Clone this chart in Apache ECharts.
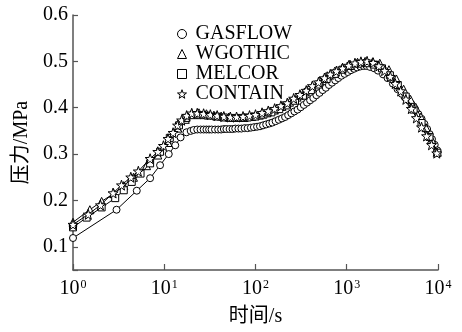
<!DOCTYPE html>
<html><head><meta charset="utf-8">
<script src="https://cdn.jsdelivr.net/npm/echarts@6/dist/echarts.min.js"></script>
<style>html,body{margin:0;padding:0;background:#fff}#c{width:462px;height:332px}</style>
</head><body><div id="c"></div>
<script>
const seriesNames = ['GASFLOW', 'WGOTHIC', 'MELCOR', 'CONTAIN'];
const xTicks = [1, 10, 100, 1000, 10000];
const yTicks = [0.1, 0.2, 0.3, 0.4, 0.5, 0.6];

const gasflowT = [1,3.0,5.0,7.0,9.0,11.2,13.2,15.1,17.5,19.5,21,23,25,27,29,31,33,36,39,42,45,48,52,56,60,65,70,76,82,89,96,104,112,121,131,142,153,166,180,195,211,228,247,267,289,313,339,367,397,430,465,503,545,590,638,690,747,808,875,947,1025,1110,1200,1300,1410,1530,1650,1800,2000,2200,2500,2800,3200,3600,4000,4600,5100,5600,6100,6600,7100,7600,8100,8600,9200,9800];
const gasflowV = [0.119,0.180,0.221,0.248,0.276,0.300,0.319,0.336,0.347,0.350,0.352,0.353,0.353,0.353,0.353,0.353,0.353,0.353,0.353,0.353,0.354,0.354,0.354,0.354,0.355,0.355,0.355,0.356,0.356,0.357,0.358,0.359,0.360,0.362,0.364,0.366,0.368,0.371,0.374,0.377,0.380,0.384,0.388,0.392,0.396,0.401,0.406,0.411,0.416,0.421,0.427,0.432,0.438,0.443,0.449,0.454,0.459,0.464,0.469,0.473,0.477,0.481,0.484,0.487,0.489,0.490,0.490,0.488,0.485,0.480,0.472,0.464,0.452,0.440,0.430,0.420,0.408,0.397,0.386,0.376,0.365,0.354,0.343,0.332,0.320,0.308];

const wgothicT = [1,1.53,2.06,2.8,3.6,4.6,6.4,8.5,11,14.1,17,20,24,29,35,42,51,62,75,91,110,133,161,195,236,285,345,418,506,612,741,897,1085,1313,1590,1924,2300,2900,3500,4200,5000,5700,6500,7400,8500,9800];
const wgothicV = [0.153,0.180,0.198,0.215,0.232,0.250,0.275,0.298,0.325,0.356,0.375,0.388,0.389,0.387,0.384,0.382,0.380,0.379,0.379,0.381,0.384,0.389,0.395,0.403,0.412,0.423,0.434,0.446,0.458,0.469,0.479,0.487,0.494,0.498,0.500,0.499,0.496,0.482,0.462,0.440,0.418,0.401,0.380,0.357,0.332,0.304];

const melcorT = [1,1.41,2.06,2.9,3.6,4.4,5.5,7.0,9.0,11.5,14.5,17.5,21,25,30,37,45,55,67,82,100,122,149,182,222,271,331,404,493,602,735,897,1095,1337,1632,1993,2433,2970,3626,4427,5405,6600,8057,9836];
const melcorV = [0.142,0.163,0.185,0.205,0.222,0.240,0.258,0.280,0.305,0.335,0.362,0.378,0.384,0.384,0.383,0.381,0.379,0.378,0.378,0.379,0.381,0.385,0.390,0.397,0.405,0.415,0.426,0.438,0.450,0.462,0.473,0.482,0.490,0.495,0.496,0.493,0.485,0.470,0.449,0.424,0.396,0.367,0.337,0.303];

const containT = [1,1.47,2.0,2.75,3.4,4.3,5.2,7.0,8.5,9.8,11,12.5,14,15.5,17.6,20,23,27,32,38,45,53,62,73,86,100,118,138,162,190,223,262,307,360,420,490,570,660,770,900,1050,1230,1430,1670,1950,2250,2600,3000,3400,3900,4450,5100,5800,6600,7500,8500,9700];
const containV = [0.148,0.170,0.190,0.216,0.233,0.250,0.263,0.290,0.305,0.318,0.333,0.346,0.362,0.373,0.383,0.388,0.388,0.387,0.385,0.383,0.381,0.380,0.380,0.381,0.383,0.385,0.389,0.393,0.398,0.404,0.410,0.420,0.428,0.437,0.447,0.455,0.464,0.472,0.479,0.485,0.491,0.496,0.499,0.500,0.497,0.490,0.480,0.467,0.452,0.436,0.418,0.398,0.378,0.358,0.339,0.320,0.302];

const STAR = 'path://M0,-10L2.35,-3.24L9.51,-3.09L3.8,1.24L5.88,8.09L0,4L-5.88,8.09L-3.8,1.24L-9.51,-3.09L-2.35,-3.24Z';
const symbols = ['circle', 'triangle', 'rect', STAR];
const symSizes = [7, 8, 7, 10];
const tArrs = [gasflowT, wgothicT, melcorT, containT];
const vArrs = [gasflowV, wgothicV, melcorV, containV];

const FONT = "'Liberation Serif', 'Noto Sans CJK SC', serif";
const AXIS_COLOR = '#555';

const chart = echarts.init(document.getElementById('c'));
chart.setOption({
  animation: false,
  backgroundColor: '#fff',
  textStyle: {fontFamily: FONT, color: '#000'},
  grid: {left: 73, right: 24, top: 15, bottom: 55, containLabel: false},
  legend: {
    orient: 'vertical', left: 172, top: 19, itemGap: 0,
    itemWidth: 9, itemHeight: 9,
    textStyle: {fontFamily: FONT, fontSize: 20, color: '#000', lineHeight: 19, padding: [0, 0, 0, 4]},
    itemStyle: {color: '#fff', borderColor: '#000', borderWidth: 1},
    data: seriesNames.map((n, i) => ({name: n, icon: symbols[i]}))
  },
  xAxis: {
    type: 'log', logBase: 10, min: xTicks[0], max: xTicks[xTicks.length - 1],
    name: '时间/s', nameLocation: 'middle', nameGap: 37,
    nameTextStyle: {fontFamily: FONT, fontSize: 20, color: '#000'},
    axisLine: {lineStyle: {color: AXIS_COLOR, width: 1.5}},
    axisTick: {inside: true, length: 6, lineStyle: {color: AXIS_COLOR, width: 1.2}},
    minorTick: {show: false},
    splitLine: {show: false},
    axisLabel: {
      margin: 9, fontFamily: FONT,
      formatter: v => xTicks.indexOf(v) >= 0 ? '{b|10}{s|' + Math.round(Math.log10(v)) + '}' : '',
      rich: {
        b: {fontFamily: FONT, fontSize: 20, color: '#000', lineHeight: 20, verticalAlign: 'bottom'},
        s: {fontFamily: FONT, fontSize: 12, color: '#000', lineHeight: 12, verticalAlign: 'top', padding: [0, 0, 0, 1]}
      }
    }
  },
  yAxis: {
    type: 'value', min: 0.05, max: 0.6, minInterval: 0.1, maxInterval: 0.1,
    name: '压力/MPa', nameLocation: 'middle', nameGap: 40, nameRotate: 90,
    nameTextStyle: {fontFamily: FONT, fontSize: 20, color: '#000'},
    axisLine: {show: true, lineStyle: {color: AXIS_COLOR, width: 1.5}},
    axisTick: {show: true, inside: true, length: 5, lineStyle: {color: AXIS_COLOR, width: 1.2}},
    splitLine: {show: false},
    axisLabel: {
      margin: 5, fontFamily: FONT, fontSize: 20, color: '#000',
      formatter: v => {
        const r = Math.round(v * 10) / 10;
        return (Math.abs(v - r) < 1e-6 && yTicks.indexOf(r) >= 0) ? r.toFixed(1) : '';
      }
    }
  },
  series: seriesNames.map((n, i) => ({
    name: n, type: 'line',
    data: tArrs[i].map((t, j) => [t, vArrs[i][j]]),
    symbol: symbols[i], symbolSize: symSizes[i], showSymbol: true, showAllSymbol: true,
    lineStyle: {color: '#000', width: 1},
    itemStyle: {color: '#fff', borderColor: '#000', borderWidth: 1},
    z: 2 + i
  }))
});
</script></body></html>
